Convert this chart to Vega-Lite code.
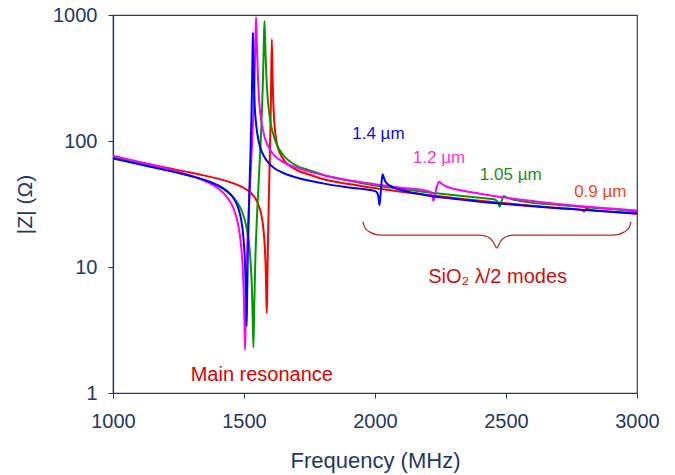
{
  "$schema": "https://vega.github.io/schema/vega-lite/v6.json",
  "width": 524,
  "height": 378,
  "autosize": {"type": "none"},
  "padding": {"left": 113, "top": 15, "right": 38, "bottom": 82},
  "background": "white",
  "config": {
    "font": "Liberation Sans",
    "view": {"stroke": "#2a3f62", "strokeWidth": 1.2},
    "axis": {
      "grid": false,
      "domainColor": "#1f3864",
      "tickColor": "#1f3864",
      "labelColor": "#1f3864",
      "titleColor": "#1f3864",
      "labelFont": "Liberation Sans",
      "titleFont": "Liberation Sans",
      "labelFontSize": 20,
      "titleFontWeight": "normal",
      "tickSize": 5,
      "domainWidth": 1.2,
      "labelFlush": false,
      "labelOverlap": false
    }
  },
  "datasets": {
    "curves": [
      {"s": "0.9 µm", "f": 1000, "z": 75.0},
      {"s": "0.9 µm", "f": 1100, "z": 67.8},
      {"s": "0.9 µm", "f": 1200, "z": 61.5},
      {"s": "0.9 µm", "f": 1300, "z": 55.9},
      {"s": "0.9 µm", "f": 1350, "z": 53.1},
      {"s": "0.9 µm", "f": 1400, "z": 50.3},
      {"s": "0.9 µm", "f": 1425, "z": 48.7},
      {"s": "0.9 µm", "f": 1450, "z": 46.9},
      {"s": "0.9 µm", "f": 1475, "z": 44.9},
      {"s": "0.9 µm", "f": 1500, "z": 42.4},
      {"s": "0.9 µm", "f": 1515, "z": 40.5},
      {"s": "0.9 µm", "f": 1530, "z": 38.0},
      {"s": "0.9 µm", "f": 1540, "z": 35.9},
      {"s": "0.9 µm", "f": 1550, "z": 33.0},
      {"s": "0.9 µm", "f": 1558, "z": 30.1},
      {"s": "0.9 µm", "f": 1565, "z": 26.6},
      {"s": "0.9 µm", "f": 1570, "z": 23.4},
      {"s": "0.9 µm", "f": 1575, "z": 19.2},
      {"s": "0.9 µm", "f": 1580, "z": 13.7},
      {"s": "0.9 µm", "f": 1583, "z": 9.3},
      {"s": "0.9 µm", "f": 1585, "z": 6.1},
      {"s": "0.9 µm", "f": 1587, "z": 4.3},
      {"s": "0.9 µm", "f": 1589, "z": 7.5},
      {"s": "0.9 µm", "f": 1592, "z": 18.4},
      {"s": "0.9 µm", "f": 1595, "z": 36},
      {"s": "0.9 µm", "f": 1598, "z": 66.6},
      {"s": "0.9 µm", "f": 1601, "z": 132},
      {"s": "0.9 µm", "f": 1603, "z": 234},
      {"s": "0.9 µm", "f": 1606, "z": 641},
      {"s": "0.9 µm", "f": 1609, "z": 319},
      {"s": "0.9 µm", "f": 1613, "z": 176},
      {"s": "0.9 µm", "f": 1620, "z": 113},
      {"s": "0.9 µm", "f": 1630, "z": 88},
      {"s": "0.9 µm", "f": 1650, "z": 72},
      {"s": "0.9 µm", "f": 1700, "z": 59},
      {"s": "0.9 µm", "f": 1750, "z": 54},
      {"s": "0.9 µm", "f": 1800, "z": 50},
      {"s": "0.9 µm", "f": 1900, "z": 45.5},
      {"s": "0.9 µm", "f": 2000, "z": 42.3},
      {"s": "0.9 µm", "f": 2100, "z": 39.5},
      {"s": "0.9 µm", "f": 2200, "z": 37.2},
      {"s": "0.9 µm", "f": 2300, "z": 35.3},
      {"s": "0.9 µm", "f": 2400, "z": 33.5},
      {"s": "0.9 µm", "f": 2500, "z": 32.0},
      {"s": "0.9 µm", "f": 2600, "z": 30.6},
      {"s": "0.9 µm", "f": 2700, "z": 29.4},
      {"s": "0.9 µm", "f": 2790, "z": 28.3},
      {"s": "0.9 µm", "f": 2798, "z": 27.6},
      {"s": "0.9 µm", "f": 2806, "z": 29.0},
      {"s": "0.9 µm", "f": 2820, "z": 28.5},
      {"s": "0.9 µm", "f": 2900, "z": 27.4},
      {"s": "0.9 µm", "f": 3000, "z": 26.4},

      {"s": "1.05 µm", "f": 1000, "z": 74.5},
      {"s": "1.05 µm", "f": 1100, "z": 66.7},
      {"s": "1.05 µm", "f": 1200, "z": 59.6},
      {"s": "1.05 µm", "f": 1300, "z": 52.6},
      {"s": "1.05 µm", "f": 1350, "z": 48.7},
      {"s": "1.05 µm", "f": 1400, "z": 44.0},
      {"s": "1.05 µm", "f": 1425, "z": 41.0},
      {"s": "1.05 µm", "f": 1450, "z": 37.3},
      {"s": "1.05 µm", "f": 1465, "z": 34.6},
      {"s": "1.05 µm", "f": 1480, "z": 31.1},
      {"s": "1.05 µm", "f": 1490, "z": 28.3},
      {"s": "1.05 µm", "f": 1500, "z": 24.8},
      {"s": "1.05 µm", "f": 1508, "z": 21.4},
      {"s": "1.05 µm", "f": 1515, "z": 17.7},
      {"s": "1.05 µm", "f": 1520, "z": 14.7},
      {"s": "1.05 µm", "f": 1525, "z": 11.1},
      {"s": "1.05 µm", "f": 1530, "z": 6.9},
      {"s": "1.05 µm", "f": 1533, "z": 4.1},
      {"s": "1.05 µm", "f": 1536, "z": 2.3},
      {"s": "1.05 µm", "f": 1539, "z": 4.8},
      {"s": "1.05 µm", "f": 1543, "z": 10.9},
      {"s": "1.05 µm", "f": 1550, "z": 26.4},
      {"s": "1.05 µm", "f": 1557, "z": 52.1},
      {"s": "1.05 µm", "f": 1563, "z": 92.9},
      {"s": "1.05 µm", "f": 1568, "z": 162},
      {"s": "1.05 µm", "f": 1572, "z": 288},
      {"s": "1.05 µm", "f": 1575, "z": 519},
      {"s": "1.05 µm", "f": 1578, "z": 896},
      {"s": "1.05 µm", "f": 1581, "z": 596},
      {"s": "1.05 µm", "f": 1585, "z": 340},
      {"s": "1.05 µm", "f": 1592, "z": 202},
      {"s": "1.05 µm", "f": 1600, "z": 146.6},
      {"s": "1.05 µm", "f": 1620, "z": 99.5},
      {"s": "1.05 µm", "f": 1650, "z": 77.4},
      {"s": "1.05 µm", "f": 1700, "z": 63.8},
      {"s": "1.05 µm", "f": 1750, "z": 58.5},
      {"s": "1.05 µm", "f": 1800, "z": 54.0},
      {"s": "1.05 µm", "f": 1900, "z": 48.3},
      {"s": "1.05 µm", "f": 2000, "z": 44.4},
      {"s": "1.05 µm", "f": 2100, "z": 41.6},
      {"s": "1.05 µm", "f": 2200, "z": 39.2},
      {"s": "1.05 µm", "f": 2300, "z": 37.2},
      {"s": "1.05 µm", "f": 2400, "z": 35.4},
      {"s": "1.05 µm", "f": 2450, "z": 34.6},
      {"s": "1.05 µm", "f": 2465, "z": 33.6},
      {"s": "1.05 µm", "f": 2470, "z": 32.3},
      {"s": "1.05 µm", "f": 2475, "z": 30.1},
      {"s": "1.05 µm", "f": 2480, "z": 31.8},
      {"s": "1.05 µm", "f": 2486, "z": 34.8},
      {"s": "1.05 µm", "f": 2492, "z": 36.6},
      {"s": "1.05 µm", "f": 2500, "z": 35.8},
      {"s": "1.05 µm", "f": 2520, "z": 34.6},
      {"s": "1.05 µm", "f": 2550, "z": 33.6},
      {"s": "1.05 µm", "f": 2600, "z": 32.4},
      {"s": "1.05 µm", "f": 2700, "z": 31.1},
      {"s": "1.05 µm", "f": 2800, "z": 29.9},
      {"s": "1.05 µm", "f": 2900, "z": 28.8},
      {"s": "1.05 µm", "f": 3000, "z": 27.7},

      {"s": "1.2 µm", "f": 1000, "z": 76.4},
      {"s": "1.2 µm", "f": 1100, "z": 68.2},
      {"s": "1.2 µm", "f": 1200, "z": 60.6},
      {"s": "1.2 µm", "f": 1300, "z": 52.9},
      {"s": "1.2 µm", "f": 1350, "z": 48.2},
      {"s": "1.2 µm", "f": 1400, "z": 42.2},
      {"s": "1.2 µm", "f": 1425, "z": 38.0},
      {"s": "1.2 µm", "f": 1450, "z": 32.2},
      {"s": "1.2 µm", "f": 1460, "z": 29.1},
      {"s": "1.2 µm", "f": 1475, "z": 23.0},
      {"s": "1.2 µm", "f": 1485, "z": 17.4},
      {"s": "1.2 µm", "f": 1490, "z": 13.9},
      {"s": "1.2 µm", "f": 1495, "z": 9.95},
      {"s": "1.2 µm", "f": 1500, "z": 5.2},
      {"s": "1.2 µm", "f": 1502, "z": 3.3},
      {"s": "1.2 µm", "f": 1504, "z": 2.2},
      {"s": "1.2 µm", "f": 1506, "z": 3.6},
      {"s": "1.2 µm", "f": 1510, "z": 9.6},
      {"s": "1.2 µm", "f": 1515, "z": 19.9},
      {"s": "1.2 µm", "f": 1520, "z": 34},
      {"s": "1.2 µm", "f": 1525, "z": 54.8},
      {"s": "1.2 µm", "f": 1530, "z": 88},
      {"s": "1.2 µm", "f": 1535, "z": 150},
      {"s": "1.2 µm", "f": 1540, "z": 302},
      {"s": "1.2 µm", "f": 1543, "z": 549},
      {"s": "1.2 µm", "f": 1546, "z": 960},
      {"s": "1.2 µm", "f": 1549, "z": 600},
      {"s": "1.2 µm", "f": 1552, "z": 380},
      {"s": "1.2 µm", "f": 1558, "z": 205},
      {"s": "1.2 µm", "f": 1565, "z": 150},
      {"s": "1.2 µm", "f": 1580, "z": 105},
      {"s": "1.2 µm", "f": 1600, "z": 85},
      {"s": "1.2 µm", "f": 1650, "z": 68},
      {"s": "1.2 µm", "f": 1700, "z": 61.5},
      {"s": "1.2 µm", "f": 1800, "z": 53.8},
      {"s": "1.2 µm", "f": 1900, "z": 48.9},
      {"s": "1.2 µm", "f": 2000, "z": 45.4},
      {"s": "1.2 µm", "f": 2100, "z": 42.6},
      {"s": "1.2 µm", "f": 2200, "z": 40.2},
      {"s": "1.2 µm", "f": 2212, "z": 39.2},
      {"s": "1.2 µm", "f": 2218, "z": 36.5},
      {"s": "1.2 µm", "f": 2223, "z": 33.6},
      {"s": "1.2 µm", "f": 2228, "z": 36.8},
      {"s": "1.2 µm", "f": 2235, "z": 42.5},
      {"s": "1.2 µm", "f": 2242, "z": 46.8},
      {"s": "1.2 µm", "f": 2246, "z": 47.5},
      {"s": "1.2 µm", "f": 2252, "z": 46.2},
      {"s": "1.2 µm", "f": 2265, "z": 44.3},
      {"s": "1.2 µm", "f": 2300, "z": 41.8},
      {"s": "1.2 µm", "f": 2350, "z": 39.8},
      {"s": "1.2 µm", "f": 2400, "z": 38.2},
      {"s": "1.2 µm", "f": 2500, "z": 35.5},
      {"s": "1.2 µm", "f": 2600, "z": 33.4},
      {"s": "1.2 µm", "f": 2700, "z": 31.6},
      {"s": "1.2 µm", "f": 2800, "z": 30.2},
      {"s": "1.2 µm", "f": 2900, "z": 29.1},
      {"s": "1.2 µm", "f": 3000, "z": 28.1},

      {"s": "1.4 µm", "f": 1000, "z": 72.6},
      {"s": "1.4 µm", "f": 1100, "z": 65.3},
      {"s": "1.4 µm", "f": 1200, "z": 58.8},
      {"s": "1.4 µm", "f": 1300, "z": 52.5},
      {"s": "1.4 µm", "f": 1350, "z": 49.0},
      {"s": "1.4 µm", "f": 1400, "z": 44.6},
      {"s": "1.4 µm", "f": 1425, "z": 41.6},
      {"s": "1.4 µm", "f": 1450, "z": 37.5},
      {"s": "1.4 µm", "f": 1460, "z": 35.2},
      {"s": "1.4 µm", "f": 1475, "z": 30.6},
      {"s": "1.4 µm", "f": 1485, "z": 26.1},
      {"s": "1.4 µm", "f": 1490, "z": 23.2},
      {"s": "1.4 µm", "f": 1495, "z": 19.6},
      {"s": "1.4 µm", "f": 1500, "z": 14.9},
      {"s": "1.4 µm", "f": 1502, "z": 12.9},
      {"s": "1.4 µm", "f": 1505, "z": 9.15},
      {"s": "1.4 µm", "f": 1508, "z": 4.99},
      {"s": "1.4 µm", "f": 1510, "z": 3.4},
      {"s": "1.4 µm", "f": 1512, "z": 5.93},
      {"s": "1.4 µm", "f": 1515, "z": 14.0},
      {"s": "1.4 µm", "f": 1520, "z": 36.5},
      {"s": "1.4 µm", "f": 1525, "z": 83},
      {"s": "1.4 µm", "f": 1528, "z": 145},
      {"s": "1.4 µm", "f": 1530, "z": 231},
      {"s": "1.4 µm", "f": 1532, "z": 424},
      {"s": "1.4 µm", "f": 1534, "z": 725},
      {"s": "1.4 µm", "f": 1536, "z": 470},
      {"s": "1.4 µm", "f": 1540, "z": 210},
      {"s": "1.4 µm", "f": 1545, "z": 145},
      {"s": "1.4 µm", "f": 1550, "z": 117},
      {"s": "1.4 µm", "f": 1560, "z": 92},
      {"s": "1.4 µm", "f": 1580, "z": 73.3},
      {"s": "1.4 µm", "f": 1600, "z": 64.9},
      {"s": "1.4 µm", "f": 1650, "z": 55.7},
      {"s": "1.4 µm", "f": 1700, "z": 51.3},
      {"s": "1.4 µm", "f": 1800, "z": 46.1},
      {"s": "1.4 µm", "f": 1900, "z": 42.7},
      {"s": "1.4 µm", "f": 2000, "z": 40.0},
      {"s": "1.4 µm", "f": 2008, "z": 39.0},
      {"s": "1.4 µm", "f": 2013, "z": 36.0},
      {"s": "1.4 µm", "f": 2017, "z": 31.0},
      {"s": "1.4 µm", "f": 2021, "z": 37.0},
      {"s": "1.4 µm", "f": 2025, "z": 47.0},
      {"s": "1.4 µm", "f": 2029, "z": 54.5},
      {"s": "1.4 µm", "f": 2034, "z": 51.0},
      {"s": "1.4 µm", "f": 2040, "z": 47.5},
      {"s": "1.4 µm", "f": 2060, "z": 43.8},
      {"s": "1.4 µm", "f": 2100, "z": 40.8},
      {"s": "1.4 µm", "f": 2150, "z": 38.6},
      {"s": "1.4 µm", "f": 2200, "z": 37.0},
      {"s": "1.4 µm", "f": 2300, "z": 34.8},
      {"s": "1.4 µm", "f": 2400, "z": 33.0},
      {"s": "1.4 µm", "f": 2500, "z": 31.6},
      {"s": "1.4 µm", "f": 2600, "z": 30.4},
      {"s": "1.4 µm", "f": 2700, "z": 29.3},
      {"s": "1.4 µm", "f": 2800, "z": 28.4},
      {"s": "1.4 µm", "f": 2900, "z": 27.5},
      {"s": "1.4 µm", "f": 3000, "z": 26.7}
    ],
    "brace": [
      {"f": 1954, "z": 22.8},
      {"f": 1962, "z": 20.4},
      {"f": 1981, "z": 18.9},
      {"f": 2011, "z": 18.0},
      {"f": 2038, "z": 17.9},
      {"f": 2401, "z": 17.9},
      {"f": 2431, "z": 17.3},
      {"f": 2450, "z": 16.0},
      {"f": 2465, "z": 14.2},
      {"f": 2479, "z": 16.0},
      {"f": 2498, "z": 17.3},
      {"f": 2528, "z": 17.9},
      {"f": 2891, "z": 17.9},
      {"f": 2920, "z": 18.0},
      {"f": 2950, "z": 18.9},
      {"f": 2969, "z": 20.4},
      {"f": 2977, "z": 22.8}
    ]
  },
  "encoding": {
    "x": {
      "field": "f",
      "type": "quantitative",
      "scale": {"domain": [1000, 3000], "nice": false, "zero": false},
      "axis": {
        "values": [1000, 1500, 2000, 2500, 3000],
        "format": "d",
        "title": "Frequency (MHz)",
        "titleFontSize": 22,
        "labelPadding": 13,
        "titleY": 67,
        "titleBaseline": "middle"
      }
    },
    "y": {
      "field": "z",
      "type": "quantitative",
      "scale": {"type": "log", "domain": [1, 1000], "nice": false},
      "axis": {
        "values": [1, 10, 100, 1000],
        "format": "d",
        "title": "|Z| (Ω)",
        "titleFontSize": 21,
        "labelPadding": 11,
        "titleAngle": -90,
        "titleX": -88,
        "titleY": 189,
        "titleAlign": "center",
        "titleBaseline": "middle"
      }
    }
  },
  "layer": [
    {
      "data": {"name": "curves"},
      "mark": {"type": "line", "strokeWidth": 2, "clip": true, "interpolate": "monotone"},
      "encoding": {
        "color": {
          "field": "s",
          "type": "nominal",
          "scale": {
            "domain": ["0.9 µm", "1.05 µm", "1.2 µm", "1.4 µm"],
            "range": ["#ff0000", "#009a00", "#ff00ff", "#0000ff"]
          },
          "legend": null
        }
      }
    },
    {
      "data": {"name": "brace"},
      "mark": {"type": "line", "color": "#c0282a", "strokeWidth": 1.3, "interpolate": "monotone"},
      "encoding": {}
    },
    {
      "data": {"values": [{"f": 2013, "z": 114, "label": "1.4 µm"}]},
      "mark": {"type": "text", "color": "#0a0ae6", "fontSize": 17, "align": "center", "baseline": "middle"},
      "encoding": {"text": {"field": "label"}}
    },
    {
      "data": {"values": [{"f": 2244, "z": 73.3, "label": "1.2 µm"}]},
      "mark": {"type": "text", "color": "#ff33d6", "fontSize": 17, "align": "center", "baseline": "middle"},
      "encoding": {"text": {"field": "label"}}
    },
    {
      "data": {"values": [{"f": 2518, "z": 54.2, "label": "1.05 µm"}]},
      "mark": {"type": "text", "color": "#1a8f1a", "fontSize": 17, "align": "center", "baseline": "middle"},
      "encoding": {"text": {"field": "label"}}
    },
    {
      "data": {"values": [{"f": 2860, "z": 39.4, "label": "0.9 µm"}]},
      "mark": {"type": "text", "color": "#ff4510", "fontSize": 17, "align": "center", "baseline": "middle"},
      "encoding": {"text": {"field": "label"}}
    },
    {
      "data": {"values": [{"f": 1568, "z": 1.39, "label": "Main resonance"}]},
      "mark": {"type": "text", "color": "#e00000", "fontSize": 20, "align": "center", "baseline": "middle"},
      "encoding": {"text": {"field": "label"}}
    },
    {
      "data": {"values": [{"f": 2468, "z": 8.34, "label": "SiO₂ λ/2 modes"}]},
      "mark": {"type": "text", "color": "#d01010", "fontSize": 20, "align": "center", "baseline": "middle"},
      "encoding": {"text": {"field": "label"}}
    }
  ]
}
